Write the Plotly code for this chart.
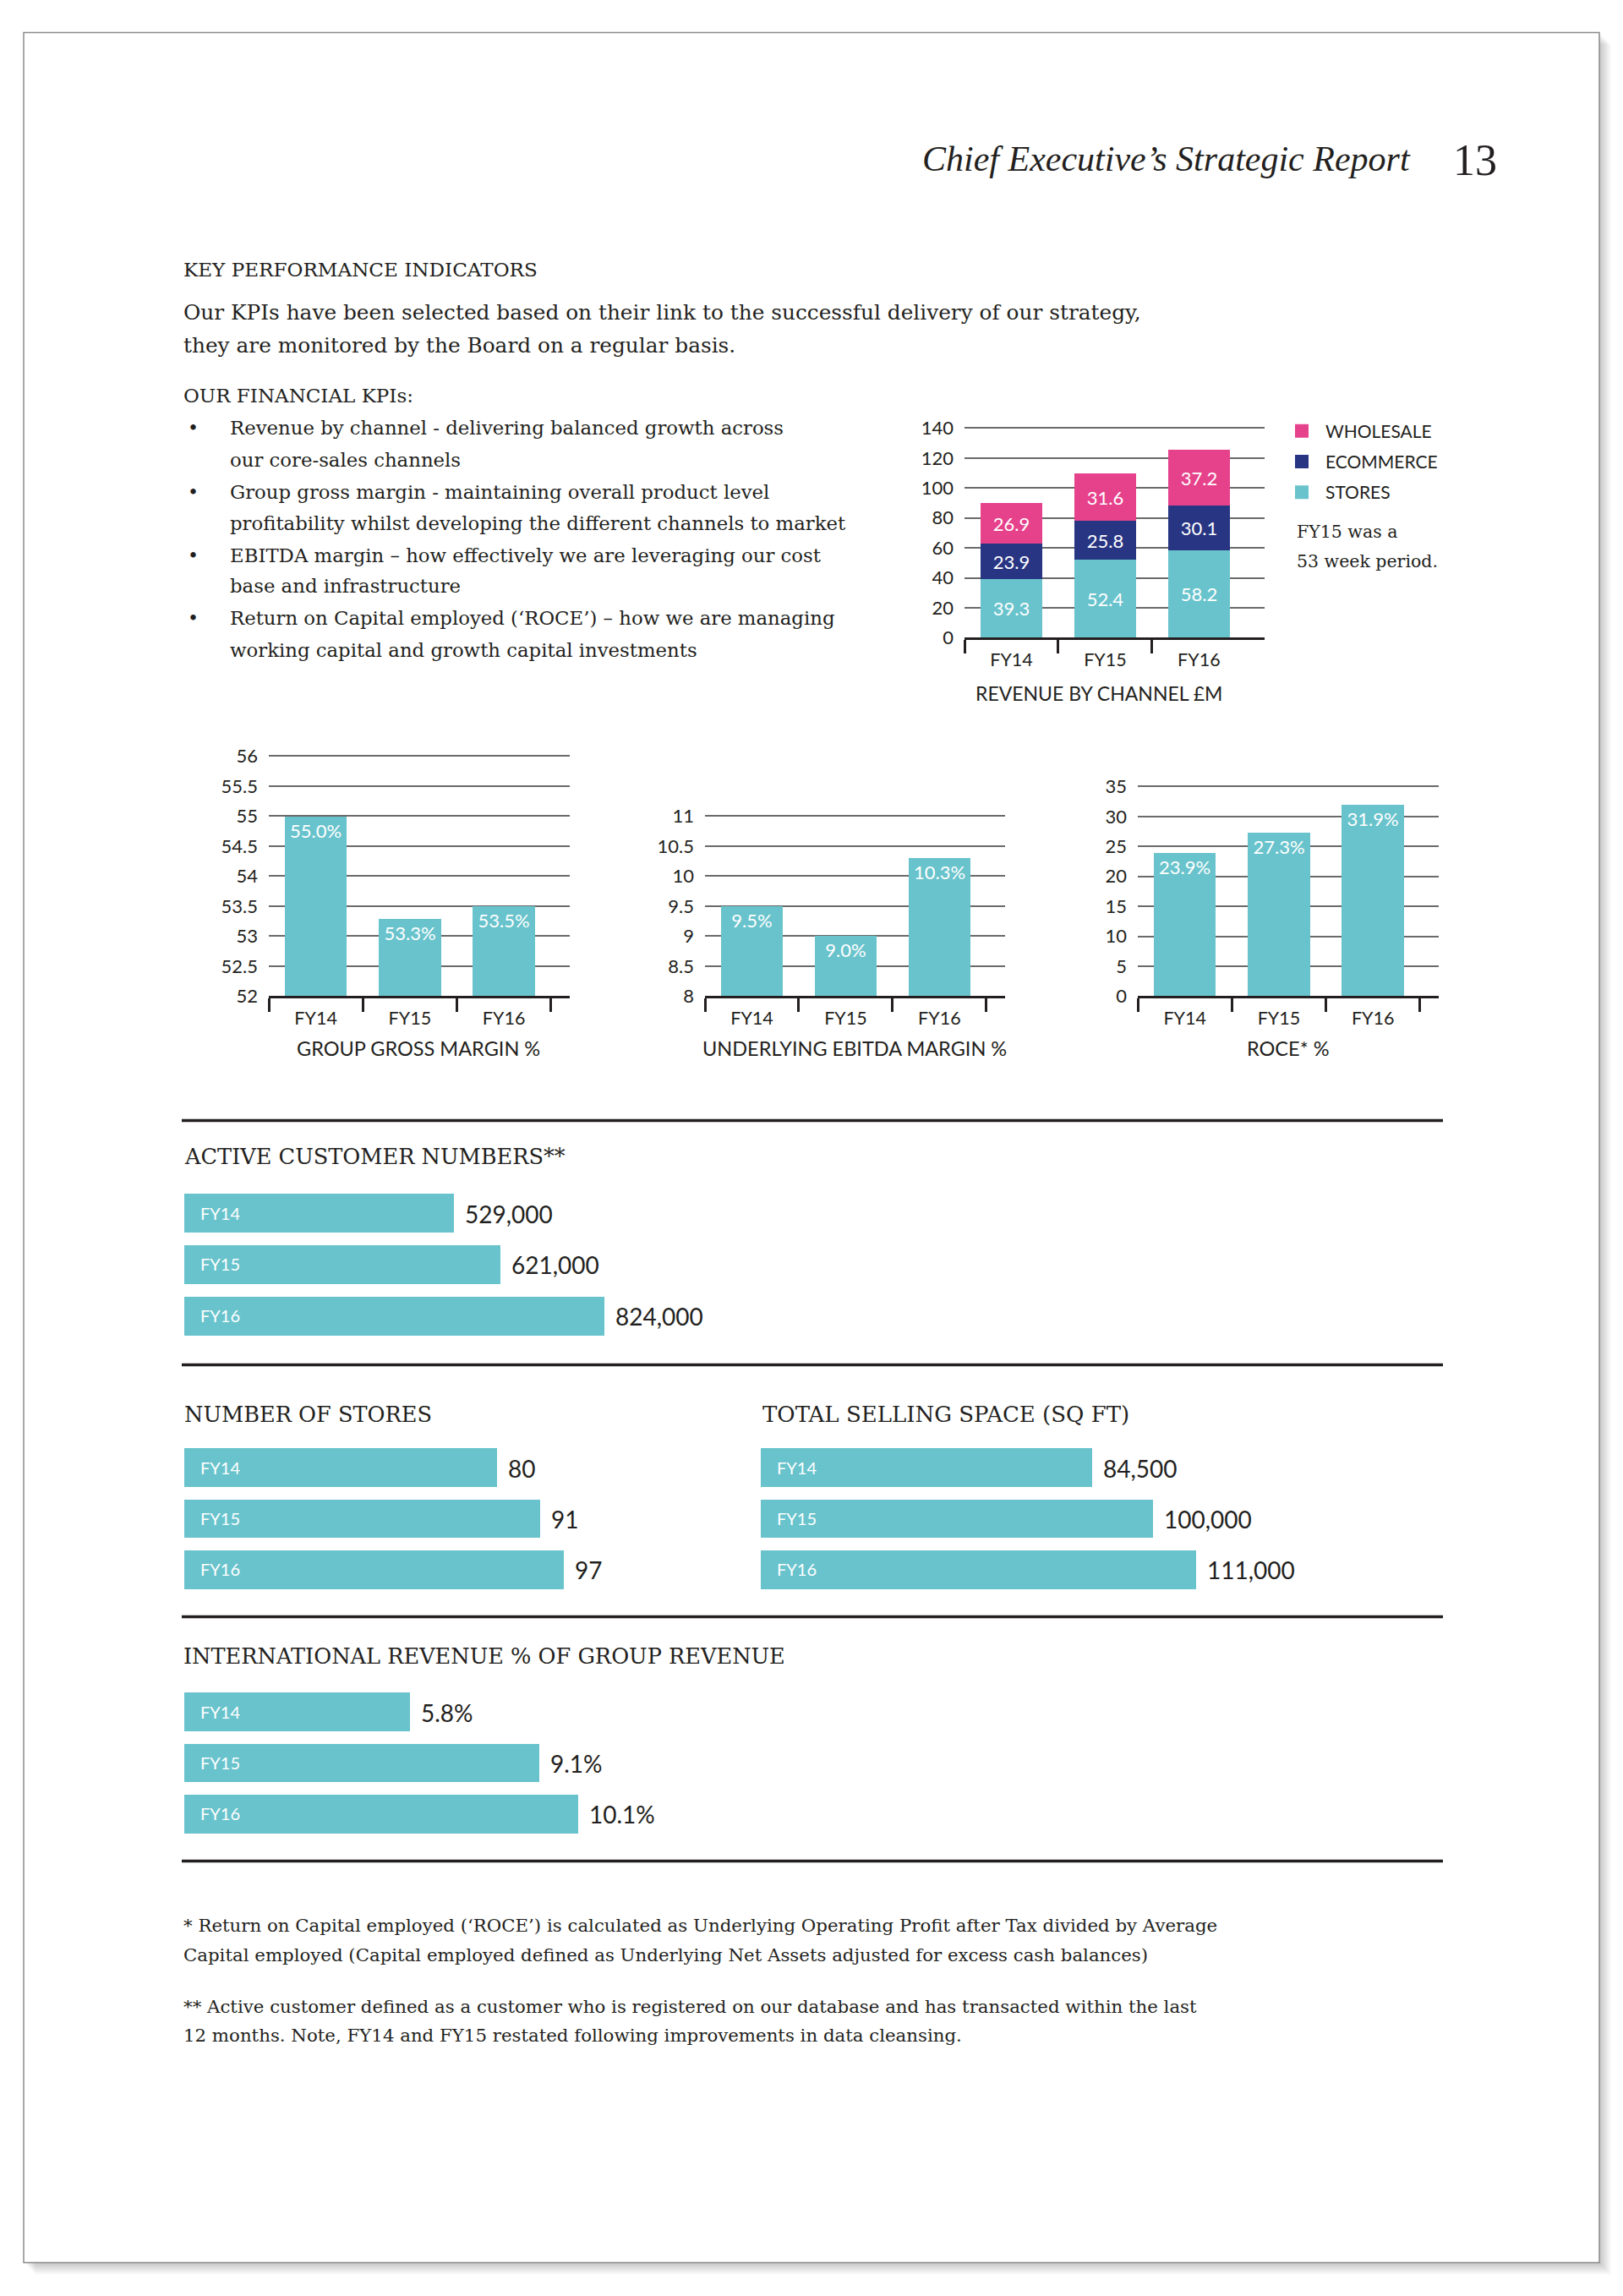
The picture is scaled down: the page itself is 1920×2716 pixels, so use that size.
import plotly.graph_objects as go

W, H = 1920, 2716
# small vertical calibration of the photographed page
Y_OFF, Y_SCALE = 12.5, 0.9908


def px(x):
    return x / W


def py(y):
    return 1 - ((y - Y_OFF) / Y_SCALE) / H


# ---------------- data ----------------
years = ["FY14", "FY15", "FY16"]
rev_stores = [39.3, 52.4, 58.2]
rev_ecommerce = [23.9, 25.8, 30.1]
rev_wholesale = [26.9, 31.6, 37.2]
gross_margin = [55.0, 53.3, 53.5]
ebitda_margin = [9.5, 9.0, 10.3]
roce = [23.9, 27.3, 31.9]
active_customers = [529000, 621000, 824000]
num_stores = [80, 91, 97]
selling_space = [84500, 100000, 111000]
intl_revenue = [5.8, 9.1, 10.1]

# ---------------- styles ----------------
INK = "#231F20"
TEAL = "#69C3CC"
NAVY = "#283583"
PINK = "#E6418B"
GRID = "#6a6a6a"
SANS = "Lato"
SERIF = "DejaVu Serif"
SERIF2 = "Liberation Serif"

fig = go.Figure()
idx = list(range(len(years)))

# Revenue by channel (stacked)
channels = [("STORES", rev_stores, TEAL, 3),
            ("ECOMMERCE", rev_ecommerce, NAVY, 2),
            ("WHOLESALE", rev_wholesale, PINK, 1)]
for name, vals, col, rank in channels:
    fig.add_trace(go.Bar(
        x=idx, y=vals, name=name, marker=dict(color=col, line=dict(width=0)),
        width=0.66, text=[f"{v:.1f}" for v in vals], textposition="inside",
        insidetextanchor="middle", textangle=0, constraintext="none",
        textfont=dict(family=SANS, size=22, color="white"),
        xaxis="x", yaxis="y", showlegend=False, hoverinfo="skip"))
# legend keys (square swatches, no data points)
for name, vals, col, rank in channels:
    fig.add_trace(go.Scatter(
        x=[None], y=[None], mode="markers", name=name, legendrank=rank,
        legendgroup=name,
        marker=dict(symbol="square", size=17, color=col, line=dict(width=0)),
        xaxis="x", yaxis="y", showlegend=True, hoverinfo="skip"))

# Margin charts
for vals, ax in [(gross_margin, "2"), (ebitda_margin, "3"), (roce, "4")]:
    fig.add_trace(go.Bar(
        x=idx, y=vals, marker=dict(color=TEAL, line=dict(width=0)), width=0.66,
        text=[f"{v:.1f}%" for v in vals], textposition="inside",
        insidetextanchor="end", textangle=0, constraintext="none",
        textfont=dict(family=SANS, size=22, color="white"),
        xaxis="x" + ax, yaxis="y" + ax, showlegend=False, hoverinfo="skip"))

# Horizontal KPI bars: (values, axis id, formatter, left px, px per unit)
hbar_sets = [
    (active_customers, "5", lambda v: f"{v:,}", 218, 0.000603),
    (num_stores, "6", lambda v: f"{v}", 218, 4.63),
    (selling_space, "7", lambda v: f"{v:,}", 900, 0.00464),
    (intl_revenue, "8", lambda v: f"{v:.1f}%", 218, 46.1),
]
annotations = []
hx_axes = {}
for vals, ax, fmt, left, scale in hbar_sets:
    fig.add_trace(go.Bar(
        x=vals, y=years, orientation="h", width=0.76,
        marker=dict(color=TEAL, line=dict(width=0)),
        xaxis="x" + ax, yaxis="y" + ax, showlegend=False, hoverinfo="skip"))
    top = max(vals) * 1.2
    hx_axes[ax] = dict(domain=[px(left), px(left + top * scale)], range=[0, top],
                       visible=False, fixedrange=True)
    for v, yr in zip(vals, years):
        annotations.append(dict(
            xref="x" + ax, yref="y" + ax, x=v, y=yr, text=fmt(v),
            xanchor="left", yanchor="middle", xshift=11, showarrow=False,
            font=dict(family=SANS, size=28, color=INK)))


# ---------------- axes ----------------
def vx(x0, x1, boundary_ticks):
    n = len(years)
    return dict(
        domain=[px(x0), px(x1)], range=[-0.5, n - 0.3],
        tickmode="array", tickvals=idx, ticktext=years, ticks="",
        tickfont=dict(family=SANS, size=21.5, color=INK), ticklabelstandoff=5,
        showline=True, linecolor=INK, linewidth=3, showgrid=False,
        zeroline=False, fixedrange=True,
        minor=dict(tickmode="array", tickvals=[i - 0.5 for i in range(boundary_ticks)],
                   ticks="outside", ticklen=16, tickwidth=3, tickcolor=INK,
                   showgrid=False))


def vy(top_px, bottom_px, lo, hi, dtick):
    pad = 0.01
    hi2 = hi + (hi - lo) * pad
    top2 = top_px - (bottom_px - top_px) * pad
    return dict(
        domain=[py(bottom_px), py(top2)], range=[lo, hi2], dtick=dtick, tick0=lo,
        showgrid=True, gridcolor=GRID, gridwidth=1.6, zeroline=False,
        showline=False, ticks="", ticklabelstandoff=12,
        tickfont=dict(family=SANS, size=22, color=INK), fixedrange=True)


def hy(y0, y1):
    return dict(domain=[py(y1), py(y0)], type="category", categoryarray=years,
                range=[len(years) - 0.5, -0.5], ticklabelposition="inside",
                ticks="", showgrid=False, zeroline=False, showline=False,
                ticklabelstandoff=16,
                tickfont=dict(family=SANS, size=20, color="white"), fixedrange=True)


layout_axes = dict(
    xaxis=dict(vx(1141, 1496, 3), anchor="y"),
    yaxis=dict(vy(507, 755, 0, 140, 20), anchor="x"),
    xaxis2=dict(vx(318, 674, 4), anchor="y2"),
    yaxis2=dict(vy(895, 1179, 52, 56, 0.5), anchor="x2"),
    xaxis3=dict(vx(834, 1189, 4), anchor="y3"),
    yaxis3=dict(vy(966, 1179, 8, 11, 0.5), anchor="x3"),
    xaxis4=dict(vx(1346, 1702, 4), anchor="y4"),
    yaxis4=dict(vy(931, 1179, 0, 35, 5), anchor="x4"),
    xaxis5=dict(hx_axes["5"], anchor="y5"),
    yaxis5=dict(hy(1406, 1588), anchor="x5"),
    xaxis6=dict(hx_axes["6"], anchor="y6"),
    yaxis6=dict(hy(1707, 1888), anchor="x6"),
    xaxis7=dict(hx_axes["7"], anchor="y7"),
    yaxis7=dict(hy(1707, 1888), anchor="x7"),
    xaxis8=dict(hx_axes["8"], anchor="y8"),
    yaxis8=dict(hy(1996, 2177), anchor="x8"),
)


# ---------------- text ----------------
def txt(x, y, s, size, family=SERIF, anchor="left", style="normal", color=INK):
    annotations.append(dict(
        xref="paper", yref="paper", x=px(x), y=py(y), text=s, showarrow=False,
        xanchor=anchor, yanchor="middle",
        font=dict(family=family, size=size, color=color, style=style)))


txt(1671, 189, "Chief Executive’s Strategic Report", 42, family=SERIF2,
    anchor="right", style="italic")
txt(1745, 190, "13", 52, family=SERIF2, anchor="center")

txt(215, 320, "KEY PERFORMANCE INDICATORS", 23.1)
txt(215, 370, "Our KPIs have been selected based on their link to the successful delivery of our strategy,", 24.8)
txt(215, 409, "they are monitored by the Board on a regular basis.", 24.8)
txt(215, 469, "OUR FINANCIAL KPIs:", 23)

bullets = [
    (507, "Revenue by channel - delivering balanced growth across", True),
    (545, "our core-sales channels", False),
    (583, "Group gross margin - maintaining overall product level", True),
    (620, "profitability whilst developing the different channels to market", False),
    (658, "EBITDA margin – how effectively we are leveraging our cost", True),
    (694, "base and infrastructure", False),
    (732, "Return on Capital employed (‘ROCE’) – how we are managing", True),
    (770, "working capital and growth capital investments", False),
]
for y, s, dot in bullets:
    if dot:
        txt(220, y, "•", 22)
    txt(270, y, s, 22.8)

txt(1532, 630, "FY15 was a", 20.5)
txt(1532, 665, "53 week period.", 20.5)

txt(1300, 821, "REVENUE BY CHANNEL £M", 23, family=SANS, anchor="center")
txt(495, 1241, "GROUP GROSS MARGIN %", 23.5, family=SANS, anchor="center")
txt(1011, 1241, "UNDERLYING EBITDA MARGIN %", 23.5, family=SANS, anchor="center")
txt(1523, 1241, "ROCE* %", 23.5, family=SANS, anchor="center")

txt(216, 1369, "ACTIVE CUSTOMER NUMBERS**", 25.6)
txt(216, 1674, "NUMBER OF STORES", 25.6)
txt(900, 1674, "TOTAL SELLING SPACE (SQ FT)", 26)
txt(215, 1960, "INTERNATIONAL REVENUE % OF GROUP REVENUE", 25.6)

txt(215, 2278, "* Return on Capital employed (‘ROCE’) is calculated as Underlying Operating Profit after Tax divided by Average", 21.3)
txt(215, 2313, "Capital employed (Capital employed defined as Underlying Net Assets adjusted for excess cash balances)", 21.3)
txt(215, 2374, "** Active customer defined as a customer who is registered on our database and has transacted within the last", 21.3)
txt(215, 2408, "12 months. Note, FY14 and FY15 restated following improvements in data cleansing.", 21.3)

# ---------------- page frame & rules ----------------
shapes = []
for k in range(1, 15):
    shapes.append(dict(type="rect", xref="paper", yref="paper", layer="below",
                       x0=px(28 + k), x1=px(1892 + k), y0=py(2677 + k), y1=py(39 + k),
                       fillcolor="rgba(0,0,0,0.016)", line=dict(width=0)))
shapes.append(dict(type="rect", xref="paper", yref="paper", layer="below",
                   x0=px(28), x1=px(1892), y0=py(2677), y1=py(39),
                   fillcolor="white", line=dict(color="#8a8a8a", width=1.5)))
for y in [1326, 1615, 1913, 2202]:
    shapes.append(dict(type="line", xref="paper", yref="paper",
                       x0=px(215), x1=px(1707), y0=py(y), y1=py(y),
                       line=dict(color=INK, width=3.5)))

fig.update_layout(
    width=W, height=H, autosize=False,
    margin=dict(l=0, r=0, t=0, b=0, pad=0),
    paper_bgcolor="white", plot_bgcolor="rgba(0,0,0,0)",
    barmode="stack", bargap=0,
    font=dict(family=SANS, color=INK),
    showlegend=True,
    legend=dict(x=px(1512), y=py(490), xanchor="left", yanchor="top",
                traceorder="grouped", tracegroupgap=6, itemwidth=46,
                font=dict(family=SANS, size=21, color=INK),
                bgcolor="rgba(0,0,0,0)", itemclick=False, itemdoubleclick=False),
    annotations=annotations,
    shapes=shapes,
    **layout_axes,
)

fig.write_html("out.html", config={"displayModeBar": False},
               post_script="document.body.style.margin='0px';"
                           "document.body.style.overflow='hidden';")
